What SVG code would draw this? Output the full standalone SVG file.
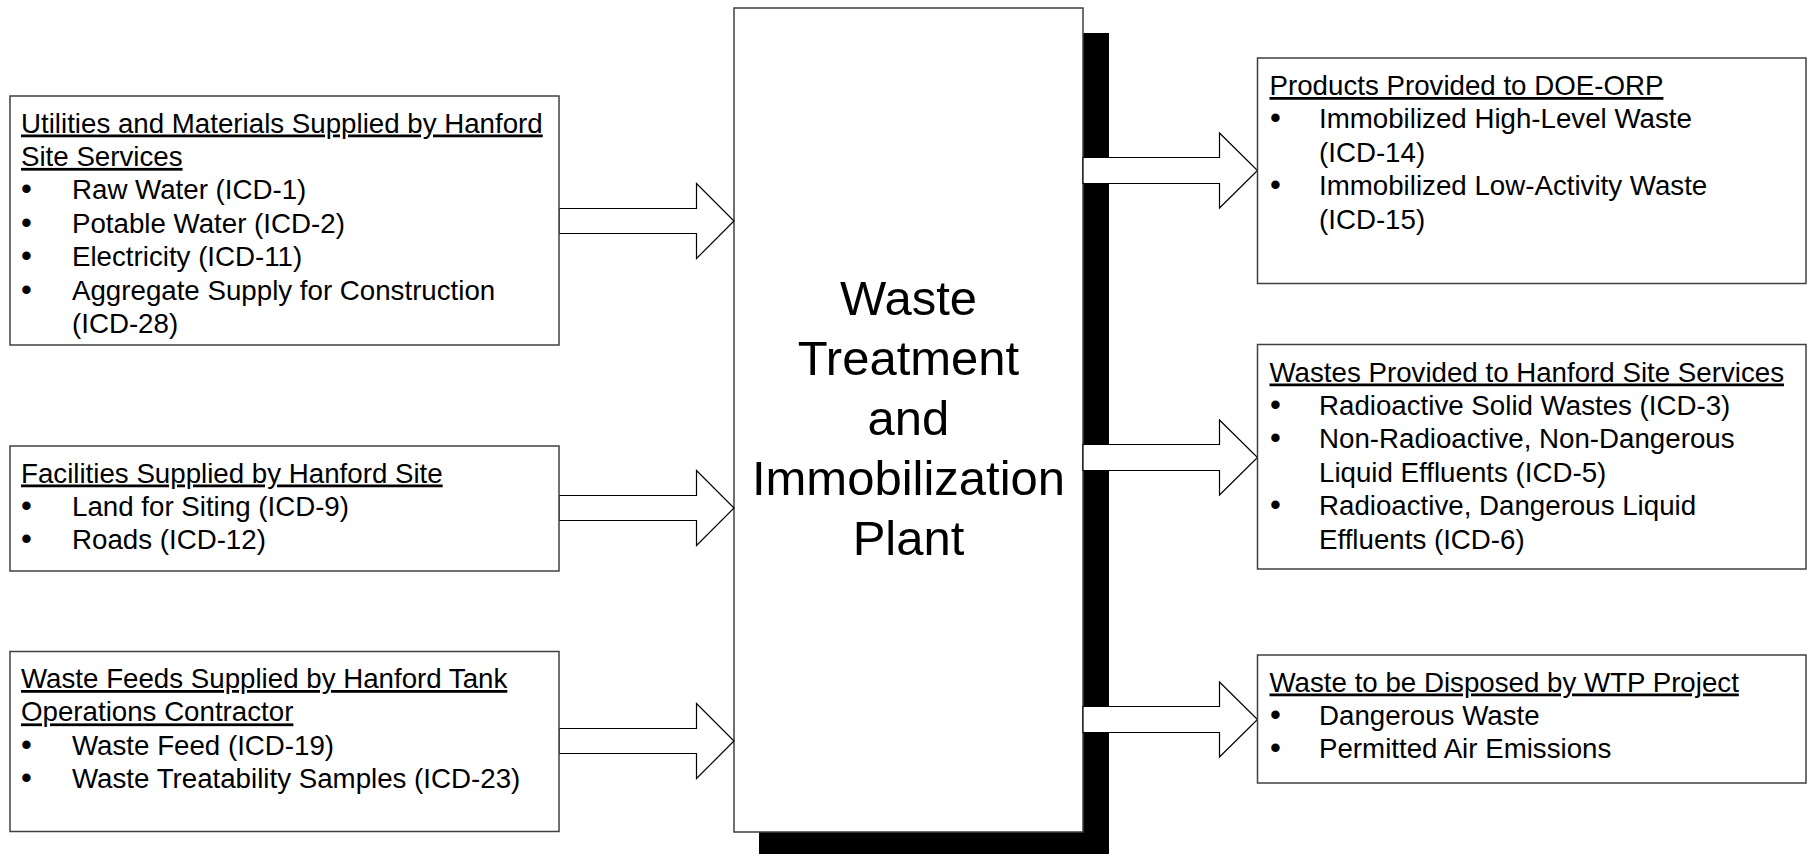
<svg xmlns="http://www.w3.org/2000/svg" width="1807" height="854" viewBox="0 0 1807 854">
  <style>
    .box { fill: #ffffff; stroke: #404040; stroke-width: 1.5; }
    .arrow { fill: #ffffff; stroke: #000000; stroke-width: 1.2; stroke-linejoin: miter; }
    .shadow { fill: #000000; }
    .t { font-family: "Liberation Sans", Arial, sans-serif; font-size: 27.7px; fill: #000000; }
    .h { text-decoration: underline; }
    .b { text-anchor: middle; font-size: 31px; }
    .title { font-family: "Liberation Sans", Arial, sans-serif; font-size: 49px; fill: #000000; text-anchor: middle; }
  </style>

  <rect width="1807" height="854" fill="#ffffff"/>

  <!-- central plant block with drop shadow -->
  <g id="plant">
    <rect class="shadow" x="759" y="33" width="350" height="830"/>
    <rect class="box" x="734" y="8" width="349" height="824"/>
    <text class="title" x="908.5" y="315">Waste</text>
    <text class="title" x="908.5" y="375">Treatment</text>
    <text class="title" x="908.5" y="435">and</text>
    <text class="title" x="908.5" y="495">Immobilization</text>
    <text class="title" x="908.5" y="555">Plant</text>
  </g>

  <!-- block arrows: inputs on the left, outputs on the right -->
  <g id="connectors">
    <polygon class="arrow" points="559,208.5 696.5,208.5 696.5,183.5 734,221 696.5,258.5 696.5,233.5 559,233.5"/>
    <polygon class="arrow" points="559,495.5 696.5,495.5 696.5,470.5 734,508 696.5,545.5 696.5,520.5 559,520.5"/>
    <polygon class="arrow" points="559,728.5 696.5,728.5 696.5,703.5 734,741 696.5,778.5 696.5,753.5 559,753.5"/>
    <polygon class="arrow" points="1083,157.5 1219.5,157.5 1219.5,133 1257.5,170.5 1219.5,208 1219.5,183.5 1083,183.5"/>
    <polygon class="arrow" points="1083,444.5 1219.5,444.5 1219.5,420 1257.5,457.5 1219.5,495 1219.5,470.5 1083,470.5"/>
    <polygon class="arrow" points="1083,706.5 1219.5,706.5 1219.5,682 1257.5,719.5 1219.5,757 1219.5,732.5 1083,732.5"/>
  </g>

  <!-- input: utilities and materials -->
  <g id="utilities">
    <rect class="box" x="10" y="96" width="549" height="249"/>
    <text class="t h" x="21" y="132.5">Utilities and Materials Supplied by Hanford</text>
    <text class="t h" x="21" y="165.9">Site Services</text>
    <text class="t b" x="26.5" y="199.3">•</text>
    <text class="t" x="72" y="199.3">Raw Water (ICD-1)</text>
    <text class="t b" x="26.5" y="232.7">•</text>
    <text class="t" x="72" y="232.7">Potable Water (ICD-2)</text>
    <text class="t b" x="26.5" y="266.1">•</text>
    <text class="t" x="72" y="266.1">Electricity (ICD-11)</text>
    <text class="t b" x="26.5" y="299.5">•</text>
    <text class="t" x="72" y="299.5">Aggregate Supply for Construction</text>
    <text class="t" x="72" y="332.9">(ICD-28)</text>
  </g>

  <!-- input: facilities -->
  <g id="facilities">
    <rect class="box" x="10" y="446" width="549" height="125"/>
    <text class="t h" x="21" y="482.5">Facilities Supplied by Hanford Site</text>
    <text class="t b" x="26.5" y="515.9">•</text>
    <text class="t" x="72" y="515.9">Land for Siting (ICD-9)</text>
    <text class="t b" x="26.5" y="549.3">•</text>
    <text class="t" x="72" y="549.3">Roads (ICD-12)</text>
  </g>

  <!-- input: waste feeds -->
  <g id="waste-feeds">
    <rect class="box" x="10" y="651.5" width="549" height="180"/>
    <text class="t h" x="21" y="688">Waste Feeds Supplied by Hanford Tank</text>
    <text class="t h" x="21" y="721.4">Operations Contractor</text>
    <text class="t b" x="26.5" y="754.8">•</text>
    <text class="t" x="72" y="754.8">Waste Feed (ICD-19)</text>
    <text class="t b" x="26.5" y="788.2">•</text>
    <text class="t" x="72" y="788.2">Waste Treatability Samples (ICD-23)</text>
  </g>

  <!-- output: products -->
  <g id="products">
    <rect class="box" x="1257.5" y="58" width="548.5" height="225.5"/>
    <text class="t h" x="1269.5" y="95">Products Provided to DOE-ORP</text>
    <text class="t b" x="1275.5" y="128.4">•</text>
    <text class="t" x="1319" y="128.4">Immobilized High-Level Waste</text>
    <text class="t" x="1319" y="161.8">(ICD-14)</text>
    <text class="t b" x="1275.5" y="195.2">•</text>
    <text class="t" x="1319" y="195.2">Immobilized Low-Activity Waste</text>
    <text class="t" x="1319" y="228.6">(ICD-15)</text>
  </g>

  <!-- output: site wastes -->
  <g id="site-wastes">
    <rect class="box" x="1257.5" y="344.5" width="548.5" height="224.5"/>
    <text class="t h" x="1269.5" y="381.5">Wastes Provided to Hanford Site Services</text>
    <text class="t b" x="1275.5" y="414.9">•</text>
    <text class="t" x="1319" y="414.9">Radioactive Solid Wastes (ICD-3)</text>
    <text class="t b" x="1275.5" y="448.3">•</text>
    <text class="t" x="1319" y="448.3">Non-Radioactive, Non-Dangerous</text>
    <text class="t" x="1319" y="481.7">Liquid Effluents (ICD-5)</text>
    <text class="t b" x="1275.5" y="515.1">•</text>
    <text class="t" x="1319" y="515.1">Radioactive, Dangerous Liquid</text>
    <text class="t" x="1319" y="548.5">Effluents (ICD-6)</text>
  </g>

  <!-- output: project disposal -->
  <g id="project-waste">
    <rect class="box" x="1257.5" y="655" width="548.5" height="128"/>
    <text class="t h" x="1269.5" y="691.5">Waste to be Disposed by WTP Project</text>
    <text class="t b" x="1275.5" y="724.9">•</text>
    <text class="t" x="1319" y="724.9">Dangerous Waste</text>
    <text class="t b" x="1275.5" y="758.3">•</text>
    <text class="t" x="1319" y="758.3">Permitted Air Emissions</text>
  </g>
</svg>
